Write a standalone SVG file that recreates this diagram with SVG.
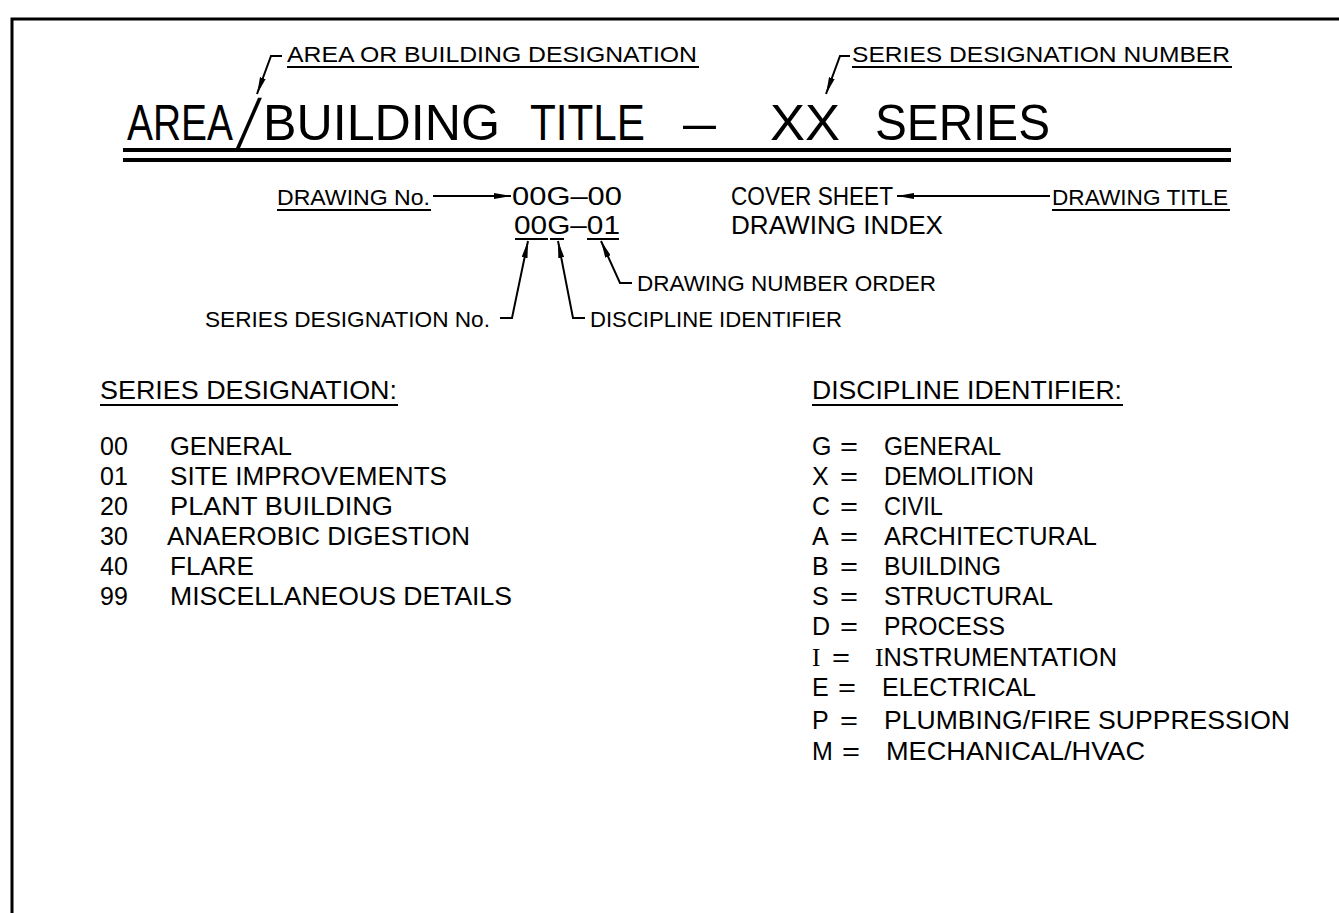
<svg xmlns="http://www.w3.org/2000/svg" width="1339" height="913" viewBox="0 0 1339 913">
<defs>
<style>
text{font-family:"Liberation Sans",Arial,sans-serif;fill:#000}
.t{font-size:50px}
.m{font-size:25px}
.s{font-size:22px}
.l{font-size:25px}
.ul{stroke:#000;stroke-width:2;fill:none}
.ld{stroke:#000;stroke-width:2;fill:none}
.frame{stroke:#000;stroke-width:3;fill:none}
.dbl{stroke:#000;stroke-width:4}
</style>
<marker id="ah" viewBox="0 0 17 6" refX="17" refY="3" markerWidth="17" markerHeight="6" markerUnits="userSpaceOnUse" orient="auto">
<path d="M0,0 L17,3 L0,6 Z" fill="#000"/>
</marker>
</defs>
<rect width="1339" height="913" fill="#fff"/>
<path class="frame" d="M12,913 V19 H1339"/>

<g id="title">
<text class="t" x="127" y="140" textLength="106" lengthAdjust="spacingAndGlyphs">AREA</text>
<text class="t" x="0" y="0" transform="translate(235,150) skewX(-14) scale(1,1.44)">/</text>
<text class="t" x="263" y="140" textLength="237" lengthAdjust="spacingAndGlyphs">BUILDING</text>
<text class="t" x="530" y="140" textLength="115" lengthAdjust="spacingAndGlyphs">TITLE</text>
<text class="t" x="683" y="140" textLength="33" lengthAdjust="spacingAndGlyphs">–</text>
<text class="t" x="770" y="140" textLength="70" lengthAdjust="spacingAndGlyphs">XX</text>
<text class="t" x="875" y="140" textLength="175" lengthAdjust="spacingAndGlyphs">SERIES</text>
<line class="dbl" x1="123" y1="150" x2="1231" y2="150"/>
<line class="dbl" x1="123" y1="160" x2="1231" y2="160"/>
</g>

<g id="label-area">
<text class="s" x="287" y="62" textLength="410" lengthAdjust="spacingAndGlyphs">AREA OR BUILDING DESIGNATION</text>
<line class="ul" x1="287" y1="67" x2="699" y2="67"/>
</g>
<g id="label-series-number">
<text class="s" x="852" y="62" textLength="378" lengthAdjust="spacingAndGlyphs">SERIES DESIGNATION NUMBER</text>
<line class="ul" x1="852" y1="67" x2="1232" y2="67"/>
</g>
<g id="label-drawing-no">
<text class="s" x="277" y="205" textLength="153" lengthAdjust="spacingAndGlyphs">DRAWING No.</text>
<line class="ul" x1="277" y1="210" x2="431" y2="210"/>
</g>
<g id="num-00">
<text class="m" x="512" y="205" textLength="110" lengthAdjust="spacingAndGlyphs">00G–00</text>
</g>
<g id="title-cover">
<text class="m" x="731" y="205" textLength="162" lengthAdjust="spacingAndGlyphs">COVER SHEET</text>
</g>
<g id="label-drawing-title">
<text class="s" x="1052" y="205" textLength="176" lengthAdjust="spacingAndGlyphs">DRAWING TITLE</text>
<line class="ul" x1="1052" y1="210" x2="1230" y2="210"/>
</g>
<g id="num-01">
<text class="m" x="514" y="234" textLength="106" lengthAdjust="spacingAndGlyphs">00G–01</text>
<line class="ul" x1="515" y1="239" x2="548" y2="239"/>
<line class="ul" x1="550" y1="239" x2="564" y2="239"/>
<line class="ul" x1="587" y1="239" x2="619" y2="239"/>
</g>
<g id="title-index">
<text class="m" x="731" y="234" textLength="212" lengthAdjust="spacingAndGlyphs">DRAWING INDEX</text>
</g>
<g id="label-order">
<text class="s" x="637" y="291" textLength="299" lengthAdjust="spacingAndGlyphs">DRAWING NUMBER ORDER</text>
</g>
<g id="label-series-no">
<text class="s" x="205" y="327" textLength="285" lengthAdjust="spacingAndGlyphs">SERIES DESIGNATION No.</text>
</g>
<g id="label-discipline">
<text class="s" x="590" y="327" textLength="252" lengthAdjust="spacingAndGlyphs">DISCIPLINE IDENTIFIER</text>
</g>

<g id="connectors">
<polyline class="ld" points="282,56 271,56 257,94" marker-end="url(#ah)"/>
<polyline class="ld" points="850,56 840,56 826,94" marker-end="url(#ah)"/>
<line class="ld" x1="433" y1="196" x2="511" y2="196" marker-end="url(#ah)"/>
<line class="ld" x1="1050" y1="196" x2="897" y2="196" marker-end="url(#ah)"/>
<polyline class="ld" points="500,318 512,318 528,241" marker-end="url(#ah)"/>
<polyline class="ld" points="585,318 573,318 558,241" marker-end="url(#ah)"/>
<polyline class="ld" points="632,283 620,283 601,241" marker-end="url(#ah)"/>
</g>

<g id="series-designation">
<text class="l" x="100" y="399" textLength="297" lengthAdjust="spacingAndGlyphs">SERIES DESIGNATION:</text>
<line class="ul" x1="100" y1="405" x2="398" y2="405"/>
<text class="l" x="100" y="455">00</text>
<text class="l" x="170" y="455" textLength="122" lengthAdjust="spacingAndGlyphs">GENERAL</text>
<text class="l" x="100" y="485">01</text>
<text class="l" x="170" y="485" textLength="277" lengthAdjust="spacingAndGlyphs">SITE IMPROVEMENTS</text>
<text class="l" x="100" y="515">20</text>
<text class="l" x="170" y="515" textLength="223" lengthAdjust="spacingAndGlyphs">PLANT BUILDING</text>
<text class="l" x="100" y="545">30</text>
<text class="l" x="167" y="545" textLength="303" lengthAdjust="spacingAndGlyphs">ANAEROBIC DIGESTION</text>
<text class="l" x="100" y="575">40</text>
<text class="l" x="170" y="575" textLength="84" lengthAdjust="spacingAndGlyphs">FLARE</text>
<text class="l" x="100" y="605">99</text>
<text class="l" x="170" y="605" textLength="342" lengthAdjust="spacingAndGlyphs">MISCELLANEOUS DETAILS</text>
</g>

<g id="discipline-identifier">
<text class="l" x="812" y="399" textLength="310" lengthAdjust="spacingAndGlyphs">DISCIPLINE IDENTIFIER:</text>
<line class="ul" x1="812" y1="405" x2="1123" y2="405"/>
<text class="l" x="812" y="455">G</text><text class="l" x="840" y="455" textLength="18" lengthAdjust="spacingAndGlyphs">=</text>
<text class="l" x="884" y="455" textLength="117" lengthAdjust="spacingAndGlyphs">GENERAL</text>
<text class="l" x="812" y="485">X</text><text class="l" x="840" y="485" textLength="18" lengthAdjust="spacingAndGlyphs">=</text>
<text class="l" x="884" y="485" textLength="150" lengthAdjust="spacingAndGlyphs">DEMOLITION</text>
<text class="l" x="812" y="515">C</text><text class="l" x="840" y="515" textLength="18" lengthAdjust="spacingAndGlyphs">=</text>
<text class="l" x="884" y="515" textLength="59" lengthAdjust="spacingAndGlyphs">CIVIL</text>
<text class="l" x="812" y="545">A</text><text class="l" x="840" y="545" textLength="18" lengthAdjust="spacingAndGlyphs">=</text>
<text class="l" x="884" y="545" textLength="213" lengthAdjust="spacingAndGlyphs">ARCHITECTURAL</text>
<text class="l" x="812" y="575">B</text><text class="l" x="840" y="575" textLength="18" lengthAdjust="spacingAndGlyphs">=</text>
<text class="l" x="884" y="575" textLength="117" lengthAdjust="spacingAndGlyphs">BUILDING</text>
<text class="l" x="812" y="605">S</text><text class="l" x="840" y="605" textLength="18" lengthAdjust="spacingAndGlyphs">=</text>
<text class="l" x="884" y="605" textLength="169" lengthAdjust="spacingAndGlyphs">STRUCTURAL</text>
<text class="l" x="812" y="635">D</text><text class="l" x="840" y="635" textLength="18" lengthAdjust="spacingAndGlyphs">=</text>
<text class="l" x="884" y="635" textLength="121" lengthAdjust="spacingAndGlyphs">PROCESS</text>
<text class="l" x="812" y="666" style="font-family:'Liberation Serif',serif">I</text><text class="l" x="832" y="666" textLength="18" lengthAdjust="spacingAndGlyphs">=</text>
<text class="l" x="875" y="666" textLength="242" lengthAdjust="spacingAndGlyphs"><tspan style="font-family:'Liberation Serif',serif">I</tspan>NSTRUMENTATION</text>
<text class="l" x="812" y="696">E</text><text class="l" x="838" y="696" textLength="18" lengthAdjust="spacingAndGlyphs">=</text>
<text class="l" x="882" y="696" textLength="154" lengthAdjust="spacingAndGlyphs">ELECTRICAL</text>
<text class="l" x="812" y="729">P</text><text class="l" x="840" y="729" textLength="18" lengthAdjust="spacingAndGlyphs">=</text>
<text class="l" x="884" y="729" textLength="406" lengthAdjust="spacingAndGlyphs">PLUMBING/FIRE SUPPRESSION</text>
<text class="l" x="812" y="760">M</text><text class="l" x="842" y="760" textLength="18" lengthAdjust="spacingAndGlyphs">=</text>
<text class="l" x="886" y="760" textLength="259" lengthAdjust="spacingAndGlyphs">MECHANICAL/HVAC</text>
</g>
</svg>
